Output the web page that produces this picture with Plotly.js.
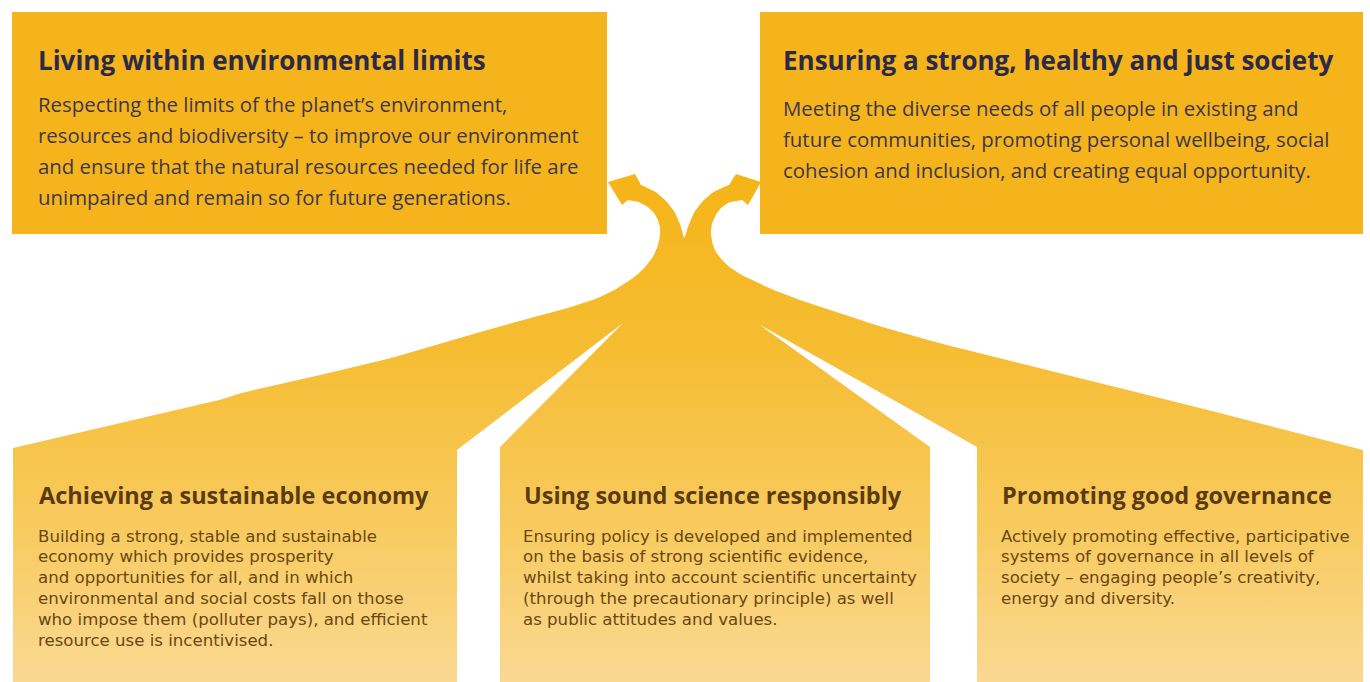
<!DOCTYPE html>
<html>
<head>
<meta charset="utf-8">
<script src="https://cdn.plot.ly/plotly-3.0.1.min.js"></script>
<style>
  html, body { margin: 0; padding: 0; background: #ffffff; }
  #chart { width: 1370px; height: 682px; }
</style>
</head>
<body>
<div id="chart"></div>
<script>
// ---------- text content ----------
const topTitles = [
  "Living within environmental limits",
  "Ensuring a strong, healthy and just society"
];
const topBodies = [
  [
    "Respecting the limits of the planet\u2019s environment,",
    "resources and biodiversity \u2013 to improve our environment",
    "and ensure that the natural resources needed for life are",
    "unimpaired and remain so for future generations."
  ],
  [
    "Meeting the diverse needs of all people in existing and",
    "future communities, promoting personal wellbeing, social",
    "cohesion and inclusion, and creating equal opportunity."
  ]
];
const bottomTitles = [
  "Achieving a sustainable economy",
  "Using sound science responsibly",
  "Promoting good governance"
];
const bottomBodies = [
  [
    "Building a strong, stable and sustainable",
    "economy which provides prosperity",
    "and opportunities for all, and in which",
    "environmental and social costs fall on those",
    "who impose them (polluter pays), and efficient",
    "resource use is incentivised."
  ],
  [
    "Ensuring policy is developed and implemented",
    "on the basis of strong scientific evidence,",
    "whilst taking into account scientific uncertainty",
    "(through the precautionary principle) as well",
    "as public attitudes and values."
  ],
  [
    "Actively promoting effective, participative",
    "systems of governance in all levels of",
    "society \u2013 engaging people\u2019s creativity,",
    "energy and diversity."
  ]
];

// ---------- layout geometry (pixel space) ----------
const topBoxX0 = [12, 760], topBoxX1 = [607, 1363], topBoxY0 = 12, topBoxY1 = 234;
const topTextX = [36, 781], topTitleY = 60, topBodyY0 = [104, 108], topBodyStep = 31;
const botTextX = [37, 522, 1000], botTitleY = 495, botBodyY0 = 536, botBodyStep = 20.8;

// outline of the fan (left outer curve, arrows, right outer curve)
const leftCurve = [[13,448],[200,405],[250,391],[383,360],[483,331],[550,313],[600,297],[633,278],[650,261],[658,245],[660,228],[654,213],[641,203],[628,200]];
const leftHead = [[622,205],[608,182],[635,174]];
const innerV = [[641,185],[657,193],[672,208],[680,224],[684,238],[689,224],[697,208],[712,193],[729,185]];
const rightHead = [[736,174],[761,182],[748,205]];
const rightCurve = [[742,200],[728,203],[717,213],[711,229],[714,248],[724,262],[735,271],[752,280],[800,300],[917,337],[1050,370],[1200,408],[1363,450]];
const lowerEdge = [[1363,682],[977,682],[977,447],[760,325],[930,447],[930,682],[500,682],[500,447],[623,323],[457,450],[457,682],[13,682]];

function catmull(pts, n) {
  const out = [];
  for (let i = 0; i < pts.length - 1; i++) {
    const p0 = pts[Math.max(i - 1, 0)], p1 = pts[i], p2 = pts[i + 1], p3 = pts[Math.min(i + 2, pts.length - 1)];
    for (let k = 0; k < n; k++) {
      const t = k / n, t2 = t * t, t3 = t2 * t;
      const f = (a, b, c, d) => 0.5 * ((2 * b) + (-a + c) * t + (2 * a - 5 * b + 4 * c - d) * t2 + (-a + 3 * b - 3 * c + d) * t3);
      out.push([f(p0[0], p1[0], p2[0], p3[0]), f(p0[1], p1[1], p2[1], p3[1])]);
    }
  }
  out.push(pts[pts.length - 1]);
  return out;
}

const outline = [].concat(
  catmull(leftCurve, 8),
  leftHead,
  catmull(innerV, 6),
  rightHead,
  catmull(rightCurve, 8),
  lowerEdge
);

const fan = {
  x: outline.map(p => p[0]),
  y: outline.map(p => p[1]),
  type: 'scatter',
  mode: 'lines',
  fill: 'toself',
  line: { width: 0, color: 'rgba(0,0,0,0)' },
  fillgradient: {
    type: 'vertical',
    colorscale: [[0, '#f5b417'], [0.35, '#f6bd33'], [0.7, '#f8cb60'], [1, '#fad892']],
    start: 175,
    stop: 682
  },
  hoverinfo: 'skip',
  showlegend: false
};

const shapes = topBoxX0.map((x0, i) => ({
  type: 'rect', xref: 'x', yref: 'y',
  x0: x0, x1: topBoxX1[i], y0: topBoxY0, y1: topBoxY1,
  fillcolor: '#f5b41c', line: { width: 0 }, layer: 'below'
}));

const FONT = '"Open Sans", "Noto Sans", sans-serif';
const BODY_FONT = '"DejaVu Sans", "Open Sans", sans-serif';
const annotations = [];
topTitles.forEach((t, i) => {
  annotations.push({
    x: topTextX[i], y: topTitleY, xref: 'x', yref: 'y', text: '<b>' + t + '</b>',
    showarrow: false, xanchor: 'left', yanchor: 'middle',
    font: { family: FONT, size: 26, color: '#2c2947' }
  });
  topBodies[i].forEach((line, j) => {
    annotations.push({
      x: topTextX[i], y: topBodyY0[i] + j * topBodyStep, xref: 'x', yref: 'y', text: line,
      showarrow: false, xanchor: 'left', yanchor: 'middle',
      font: { family: FONT, size: 20.4, color: '#3d374c' }
    });
  });
});
bottomTitles.forEach((t, i) => {
  annotations.push({
    x: botTextX[i], y: botTitleY, xref: 'x', yref: 'y', text: '<b>' + t + '</b>',
    showarrow: false, xanchor: 'left', yanchor: 'middle',
    font: { family: FONT, size: 23.5, color: '#5a3a10' }
  });
  bottomBodies[i].forEach((line, j) => {
    annotations.push({
      x: botTextX[i], y: botBodyY0 + j * botBodyStep, xref: 'x', yref: 'y', text: line,
      showarrow: false, xanchor: 'left', yanchor: 'middle', borderpad: 0,
      font: { family: BODY_FONT, size: 16.6, color: '#6a4712' }
    });
  });
});

const layout = {
  width: 1370, height: 682,
  margin: { l: 0, r: 0, t: 0, b: 0, pad: 0 },
  paper_bgcolor: '#ffffff', plot_bgcolor: '#ffffff',
  xaxis: { range: [0, 1370], visible: false, fixedrange: true },
  yaxis: { range: [682, 0], visible: false, fixedrange: true },
  shapes: shapes,
  annotations: annotations,
  showlegend: false
};

Plotly.newPlot('chart', [fan], layout, { displayModeBar: false, staticPlot: true });
</script>
</body>
</html>
